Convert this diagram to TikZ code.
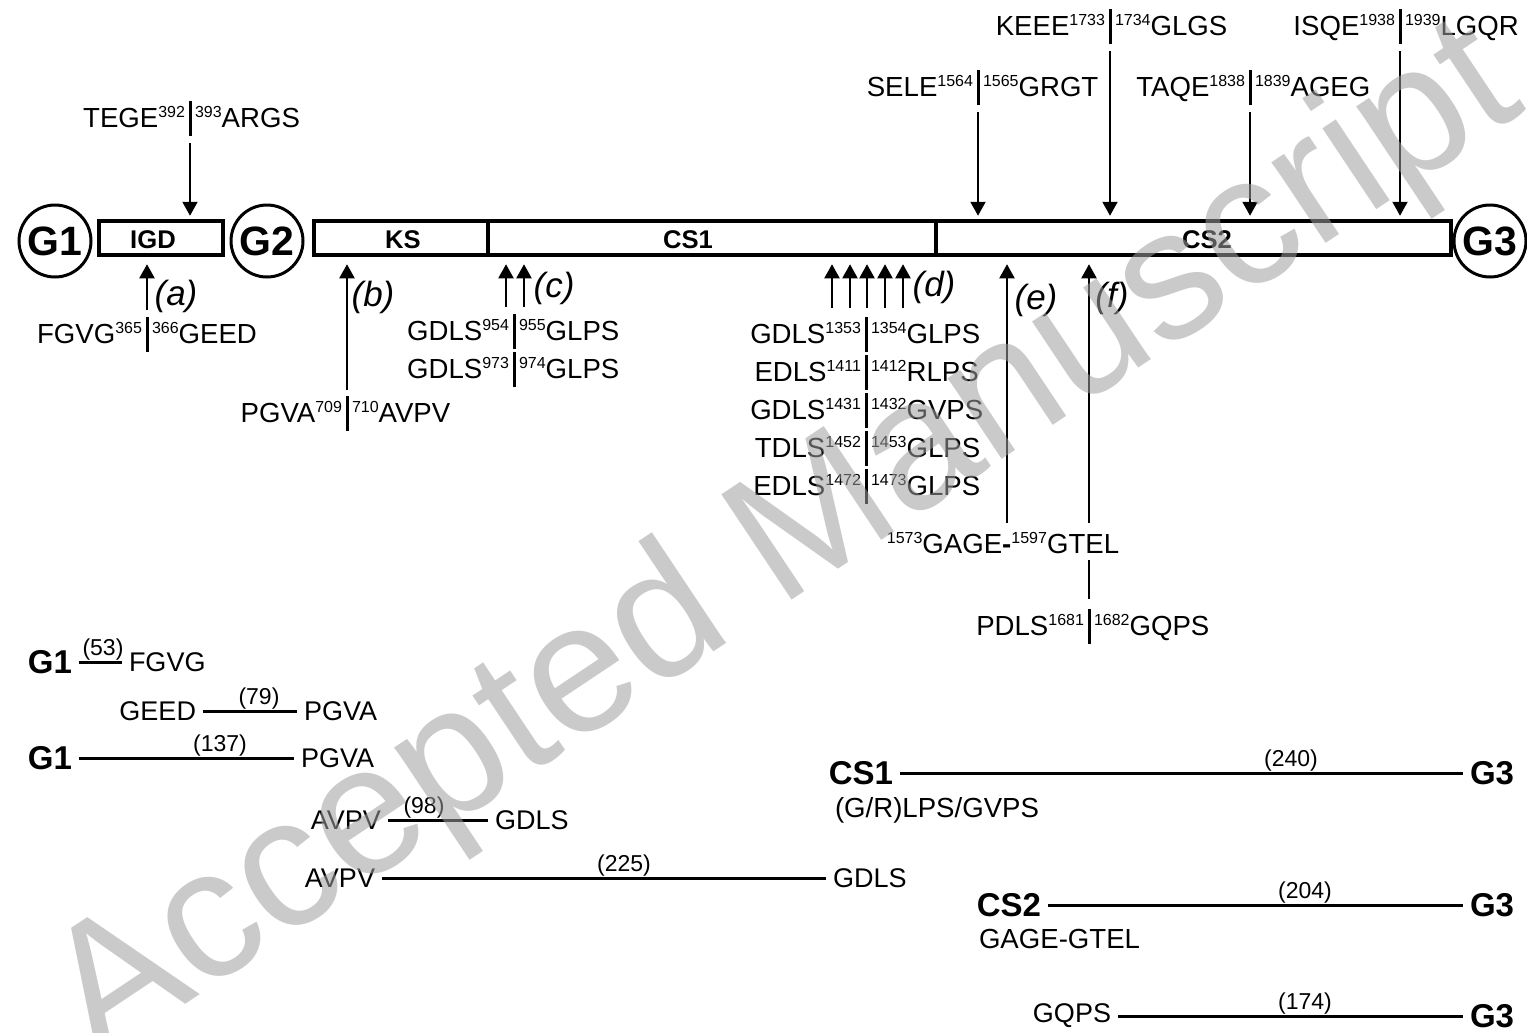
\documentclass[tikz,border=0pt]{standalone}
\usepackage{fontspec}
\setmainfont{Liberation Sans}
\usetikzlibrary{arrows.meta,calc}

\newcommand\nr[1]{\raisebox{4.8pt}{\fontsize{8}{9}\selectfont #1}}
% cleavage site: name, x, baseline y, left seq, left no., right no., right seq
\newcommand\cutsite[7]{%
  \coordinate (#1) at (#2,#3);
  \node[seq,anchor=base east] (#1-l) at ([xshift=-2pt]#1) {#4\nr{#5}};
  \node[seq,anchor=base west] (#1-r) at ([xshift=2pt]#1) {\nr{#6}#7};
  \coordinate (#1-t) at ([yshift=13pt]#1);
  \coordinate (#1-b) at ([yshift=-4.5pt]#1);
  \draw[cutbar] (#1-t) -- (#1-b);
}

\begin{document}
\begin{tikzpicture}[x=0.5pt,y=-0.5pt,line width=1pt,>={Triangle[width=7.5pt,length=7pt]}]
\tikzset{
  seq/.style={inner sep=0pt,font=\fontsize{13.8}{15}\selectfont},
  cutbar/.style={line width=1.5pt},
  cutarrow/.style={line width=1pt,->},
  dombox/.style={draw,line width=2pt,minimum height=17.25pt,inner sep=0pt},
  domlab/.style={inner sep=0pt,font=\fontsize{12.8}{14}\selectfont\bfseries},
  glob/.style={circle,draw,line width=1.5pt,minimum size=36pt,inner sep=0pt,font=\fontsize{20.5}{22}\selectfont\bfseries},
  tag/.style={inner sep=0pt,font=\fontsize{17.5}{19}\selectfont\itshape},
  bhead/.style={inner sep=0pt,outer sep=3.5pt,font=\fontsize{16.5}{18}\selectfont\bfseries},
  bseq/.style={inner sep=0pt,outer sep=3.5pt,font=\fontsize{13.5}{15}\selectfont},
  num/.style={inner sep=0.5pt,anchor=south,font=\fontsize{11.5}{12}\selectfont},
  span/.style={line width=1.5pt},
  wmark/.style={rotate=33.7,text=black!38,text opacity=0.55,font=\fontsize{92}{92}\selectfont}
}
\useasboundingbox (0,0) rectangle (1527,1033);
% ---------- core protein: globular domains and boxes ----------
\node[dombox,minimum width=62pt] (igd) at (161,238) {};
\node[dombox,minimum width=87pt] (ks) at (401,238) {};
\node[dombox,minimum width=224pt] (cs1) at (712,238) {};
\node[dombox,minimum width=257.5pt] (cs2) at (1193.5,238) {};
\node[domlab] (igd-lab) at (153,240) {IGD};
\node[domlab] (ks-lab) at (403,240) {KS};
\node[domlab] (cs1-lab) at (688,240) {CS1};
\node[domlab] (cs2-lab) at (1207,240) {CS2};
\node[glob] (g1) at (55,241) {G1};
\node[glob] (g2) at (267,241) {G2};
\node[glob] (g3) at (1490,241) {G3};
% ---------- cleavage sites above the core ----------
\cutsite{tege}{190}{127}{TEGE}{392}{393}{ARGS}
\cutsite{sele}{978}{96}{SELE}{1564}{1565}{GRGT}
\cutsite{keee}{1110}{35}{KEEE}{1733}{1734}{GLGS}
\cutsite{taqe}{1250}{96}{TAQE}{1838}{1839}{AGEG}
\cutsite{isqe}{1400}{35}{ISQE}{1938}{1939}{LGQR}
\draw[cutarrow,shorten >=1.5pt] ([yshift=-3.5pt]tege-b) -- (tege-b |- igd.north);
\foreach \s in {sele,keee,taqe,isqe}
  \draw[cutarrow,shorten >=1.5pt] ([yshift=-3.5pt]\s-b) -- (\s-b |- cs2.north);
% ---------- cleavage sites below the core ----------
\cutsite{fgvg}{147}{343}{FGVG}{365}{366}{GEED}
\cutsite{pgva}{347}{422}{PGVA}{709}{710}{AVPV}
\cutsite{gdlsA}{514}{340}{GDLS}{954}{955}{GLPS}
\cutsite{gdlsB}{514}{378}{GDLS}{973}{974}{GLPS}
\cutsite{dA}{866}{343}{GDLS}{1353}{1354}{GLPS}
\cutsite{dB}{866}{381}{EDLS}{1411}{1412}{RLPS}
\cutsite{dC}{866}{419}{GDLS}{1431}{1432}{GVPS}
\cutsite{dD}{866}{457}{TDLS}{1452}{1453}{GLPS}
\cutsite{dE}{866}{495}{EDLS}{1472}{1473}{GLPS}
\cutsite{pdls}{1089}{635}{PDLS}{1681}{1682}{GQPS}
\node[seq,anchor=base] (gage) at (1003,553) {\nr{1573}GAGE\textbf{-}\nr{1597}GTEL};
\draw[cutarrow,shorten >=3.5pt] ([yshift=3.5pt]fgvg-t) -- (fgvg-t |- igd.south);
\draw[cutarrow,shorten >=3.5pt] ([yshift=3pt]pgva-t) -- (pgva-t |- ks.south);
\foreach \x [count=\i] in {506,524} {
  \coordinate (c\i) at (\x,307);
  \draw[cutarrow,shorten >=3.5pt] (c\i) -- (c\i |- cs1.south);
}
\foreach \x [count=\i] in {832,850,867,885,903} {
  \coordinate (d\i) at (\x,308);
  \draw[cutarrow,shorten >=3.5pt] (d\i) -- (d\i |- cs1.south);
}
\coordinate (e0) at (1007,523);
\coordinate (f0) at (1089,523);
\coordinate (f1) at (1089,560);
\draw[cutarrow,shorten >=3.5pt] (e0) -- (e0 |- cs2.south);
\draw[cutarrow,shorten >=3.5pt] (f0) -- (f0 |- cs2.south);
\draw[line width=1pt] (f1) -- ([yshift=5pt]pdls-t);
\node[tag] (ta) at (176,296) {(a)};
\node[tag] (tb) at (373,297) {(b)};
\node[tag] (tc) at (554,288) {(c)};
\node[tag] (td) at (934,287) {(d)};
\node[tag] (te) at (1036,300) {(e)};
\node[tag] (tf) at (1112,298) {(f)};
% ---------- fragments ----------
\node[bhead,anchor=east] (r1a) at (79,662) {G1};
\node[bseq,anchor=west] (r1b) at (122,662) {FGVG};
\draw[span] (r1a.east) -- (r1b.west);
\node[num] (n53) at (103,662) {(53)};
\node[bseq,anchor=east] (r2a) at (203,711) {GEED};
\node[bseq,anchor=west] (r2b) at (297,711) {PGVA};
\draw[span] (r2a.east) -- (r2b.west);
\node[num] (n79) at (259,711) {(79)};
\node[bhead,anchor=east] (r3a) at (79,758) {G1};
\node[bseq,anchor=west] (r3b) at (294,758) {PGVA};
\draw[span] (r3a.east) -- (r3b.west);
\node[num] (n137) at (220,758) {(137)};
\node[bseq,anchor=east] (r4a) at (388,820) {AVPV};
\node[bseq,anchor=west] (r4b) at (488,820) {GDLS};
\draw[span] (r4a.east) -- (r4b.west);
\node[num] (n98) at (424,820) {(98)};
\node[bseq,anchor=east] (r5a) at (382,878) {AVPV};
\node[bseq,anchor=west] (r5b) at (826,878) {GDLS};
\draw[span] (r5a.east) -- (r5b.west);
\node[num] (n225) at (624,878) {(225)};
\node[bhead,anchor=east] (r6a) at (900,773) {CS1};
\node[bhead,anchor=west] (r6b) at (1463,773) {G3};
\draw[span] (r6a.east) -- (r6b.west);
\node[num] (n240) at (1291,773) {(240)};
\node[seq,anchor=base west] (r6c) at (834,817) {(G/R)LPS/GVPS};
\node[bhead,anchor=east] (r7a) at (1048,905) {CS2};
\node[bhead,anchor=west] (r7b) at (1463,905) {G3};
\draw[span] (r7a.east) -- (r7b.west);
\node[num] (n204) at (1305,905) {(204)};
\node[seq,anchor=base west] (r7c) at (978,948) {GAGE-GTEL};
\node[bseq,anchor=east] (r8a) at (1118,1016) {GQPS};
\node[bhead,anchor=west] (r8b) at (1463,1016) {G3};
\draw[span] (r8a.east) -- (r8b.west);
\node[num] (n174) at (1305,1016) {(174)};
% ---------- watermark ----------
\node[wmark] (wm) at (787,546) {Accepted Manuscript};
\end{tikzpicture}
\end{document}
